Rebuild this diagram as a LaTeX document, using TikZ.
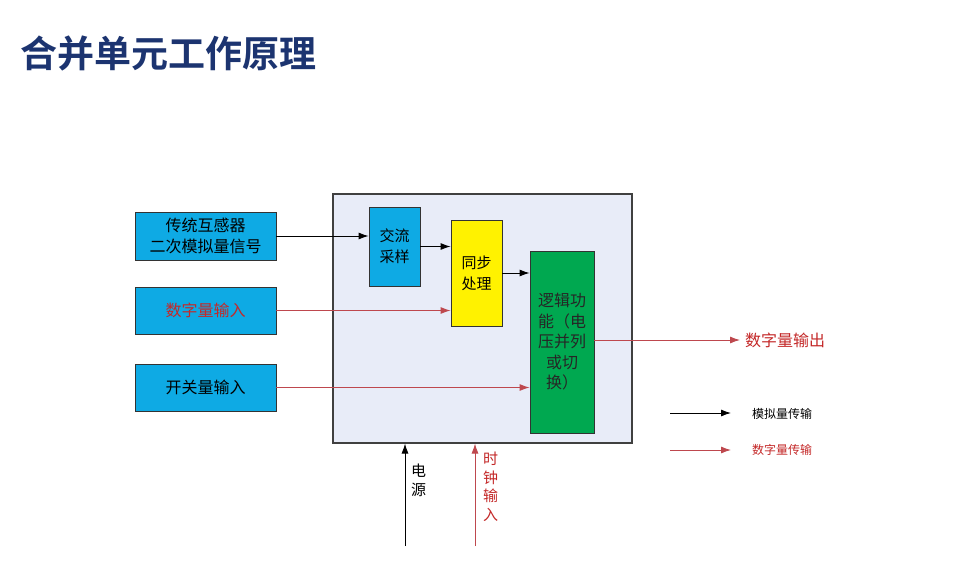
\documentclass[tikz,border=0pt]{standalone}
\usepackage{fontspec}
\setmainfont{Noto Sans CJK SC}
\newfontfamily\cjkb{Noto Sans CJK SC Bold}
\usetikzlibrary{arrows.meta}
\definecolor{titleblue}{RGB}{28,52,112}
\definecolor{boxcyan}{RGB}{14,170,228}
\definecolor{panel}{RGB}{232,236,248}
\definecolor{syncyellow}{RGB}{255,242,0}
\definecolor{logicgreen}{RGB}{0,168,80}
\definecolor{linered}{RGB}{190,72,78}
\definecolor{textred}{RGB}{196,40,40}
\tikzset{
  blockbox/.style={draw=black!80, line width=0.9pt, align=center, inner sep=0pt, font=\fontsize{15}{21}\selectfont},
  cyanbox/.style={blockbox, fill=boxcyan},
  blk/.style={draw=black, line width=0.9pt, -{Latex[length=10pt,width=7pt]}},
  redarr/.style={draw=linered, line width=0.9pt, -{Latex[length=10pt,width=7pt]}},
}
\begin{document}
\begin{tikzpicture}[x=1pt,y=-1pt]
\useasboundingbox (0,0) rectangle (960,567);
\fill[white] (0,0) rectangle (960,567);
% title
\node[anchor=west, text=titleblue, font=\cjkb\fontsize{37}{42}\selectfont, inner sep=0pt] (title) at (20,53) {合并单元工作原理};
% main panel
\node[draw=black!75, fill=panel, line width=1.1pt, minimum width=299pt, minimum height=249pt, inner sep=0pt] (main) at (482.5,318.5) {};
% inputs
\node[cyanbox, minimum width=141pt, minimum height=48pt, font=\fontsize{16}{21}\selectfont] (box1) at (205.5,236) {传统互感器\\二次模拟量信号};
\node[cyanbox, minimum width=141pt, minimum height=47pt, text=textred, font=\fontsize{16}{18}\selectfont] (box2) at (205.5,310.5) {数字量输入};
\node[cyanbox, minimum width=141pt, minimum height=47pt, font=\fontsize{16}{18}\selectfont] (box3) at (205.5,387.5) {开关量输入};
% inner blocks
\node[cyanbox, minimum width=51pt, minimum height=79pt] (ac) at (394.5,246.5) {交流\\采样};
\node[blockbox, fill=syncyellow, minimum width=51pt, minimum height=106pt] (sync) at (476.5,273) {同步\\处理};
\node[blockbox, fill=logicgreen, text=black!85, minimum width=64pt, minimum height=182pt, font=\fontsize{16}{20.5}\selectfont] (logic) at (562,342) {逻辑功\\能（电\\压并列\\或切\\换）};
% connectors
\draw[blk] (box1.east) -- (box1.east -| ac.west);
\draw[blk] (ac.east) -- (ac.east -| sync.west);
\draw[redarr] (box2.east) -- (box2.east -| sync.west);
\draw[redarr] (box3.east) -- (box3.east -| logic.west);
\draw[blk] (sync.east) -- (sync.east -| logic.west);
\coordinate (out) at (740,340);
\draw[redarr] (logic.east |- out) -- (out);
\node[anchor=west, text=textred, font=\fontsize{16}{18}\selectfont, inner sep=0pt] (outlbl) at (745,340) {数字量输出};
% power and clock
\coordinate (pw) at (405,546);
\coordinate (ck) at (475,546);
\draw[blk] (pw) -- (pw |- main.south);
\draw[redarr] (ck) -- (ck |- main.south);
\node[anchor=north west, align=center, inner sep=0pt, font=\fontsize{15}{19}\selectfont] (pwlbl) at (411,464) {电\\源};
\node[anchor=north west, align=center, inner sep=0pt, text=textred, font=\fontsize{15}{18.5}\selectfont] (cklbl) at (483,452) {时\\钟\\输\\入};
% legend
\coordinate (la1) at (670,413);
\coordinate (lb1) at (731,413);
\coordinate (la2) at (670,450);
\coordinate (lb2) at (731,450);
\draw[blk] (la1) -- (lb1);
\draw[redarr] (la2) -- (lb2);
\node[anchor=west, inner sep=0pt, font=\fontsize{12}{14}\selectfont] (leg1) at (752,414) {模拟量传输};
\node[anchor=west, inner sep=0pt, text=textred, font=\fontsize{12}{14}\selectfont] (leg2) at (752,450) {数字量传输};
\end{tikzpicture}
\end{document}
